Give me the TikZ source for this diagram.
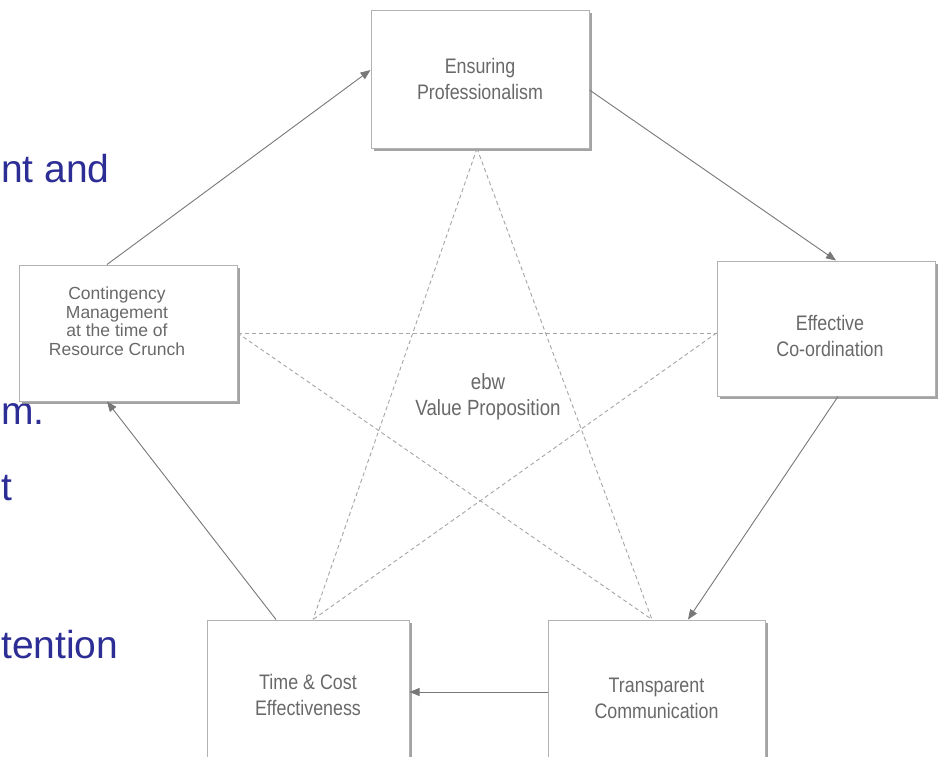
\documentclass[tikz,border=0pt]{standalone}
\usepackage{fontspec}
\setmainfont{Liberation Sans}
\newfontfamily\boxfont[FakeStretch=0.85]{Liberation Sans}
\newfontfamily\plainfont{Liberation Sans}
\usetikzlibrary{arrows.meta,shadows}
\definecolor{boxline}{RGB}{178,178,178}
\definecolor{shadowc}{RGB}{140,140,140}
\definecolor{txtgray}{RGB}{105,105,105}
\definecolor{arrowc}{RGB}{120,120,120}
\definecolor{dashc}{RGB}{165,165,165}
\definecolor{slideblue}{RGB}{45,45,150}
\begin{document}
\begin{tikzpicture}[x=1pt,y=-1pt,
  valbox/.style={draw=boxline, line width=1pt, fill=white, inner sep=0pt,
    drop shadow={shadow xshift=2.5pt, shadow yshift=-2.5pt, fill=shadowc, opacity=0.8}},
  boxtext/.style={text=txtgray, align=center, inner sep=0pt,
    font=\boxfont\fontsize{21pt}{26pt}\selectfont},
  flow/.style={draw=arrowc, line width=0.9pt, -{Triangle[length=10pt,width=8pt]}},
  star/.style={draw=dashc, line width=0.9pt, dash pattern=on 4pt off 3pt},
  slidetext/.style={text=slideblue, anchor=base west, inner sep=0pt,
    font=\fontsize{39pt}{42pt}\selectfont}
]
\useasboundingbox (0,0) rectangle (941,756);
\clip (0,0) rectangle (941,756);
\fill[white] (0,0) rectangle (941,756);

% partial slide text
\node[slidetext] (s1) at (1,182) {nt and};
\node[slidetext] (s2) at (1,424) {m.};
\node[slidetext] (s3) at (1,500) {t};
\node[slidetext] (s4) at (1,658) {tention};

% boxes
\node[valbox, minimum width=218pt, minimum height=138pt] (ens) at (480,79) {};
\node[valbox, minimum width=218pt, minimum height=136pt] (cont) at (128,333) {};
\node[valbox, minimum width=218pt, minimum height=135pt] (eff) at (826,328.5) {};
\node[valbox, minimum width=202pt, minimum height=150pt] (time) at (308,695) {};
\node[valbox, minimum width=217pt, minimum height=150pt] (trans) at (656.5,695) {};

% box texts
\node[boxtext] (ens-t) at (ens.center) {Ensuring\\Professionalism};
\node[boxtext, font=\plainfont\fontsize{17.5pt}{18.5pt}\selectfont] (cont-t) at (117,321) {Contingency\\Management\\at the time of\\Resource Crunch};
\node[boxtext] (eff-t) at (830,335.5) {Effective\\Co-ordination};
\node[boxtext] (time-t) at (308,694.5) {Time \& Cost\\Effectiveness};
\node[boxtext] (trans-t) at (656.5,698) {Transparent\\Communication};

% centre
\node[boxtext, font=\boxfont\fontsize{22pt}{26pt}\selectfont] (vp) at (488,397) {ebw\\Value Proposition};

% dashed star
\draw[star] ([xshift=-3pt]ens.south) -- ([xshift=5pt]time.north);
\draw[star] ([xshift=-3pt]ens.south) -- ([xshift=-4.5pt]trans.north);
\draw[star] (cont.east) -- ([yshift=-4.5pt]eff.west);
\draw[star] (cont.east) -- ([xshift=-4.5pt]trans.north);
\draw[star] ([yshift=-4.5pt]eff.west) -- ([xshift=5pt]time.north);

% cycle arrows
\draw[flow] ([xshift=-21pt]cont.north) -- ([yshift=9pt]ens.west);
\draw[flow] ([yshift=-11pt]ens.east) -- ([xshift=10pt]eff.north);
\draw[flow] ([xshift=12pt]eff.south) -- ([xshift=31.5pt]trans.north);
\draw[flow] ([yshift=3pt]trans.west) -- ([yshift=3pt]time.east);
\draw[flow] ([xshift=-32pt]time.north) -- ([xshift=-21pt]cont.south);
\end{tikzpicture}
\end{document}
